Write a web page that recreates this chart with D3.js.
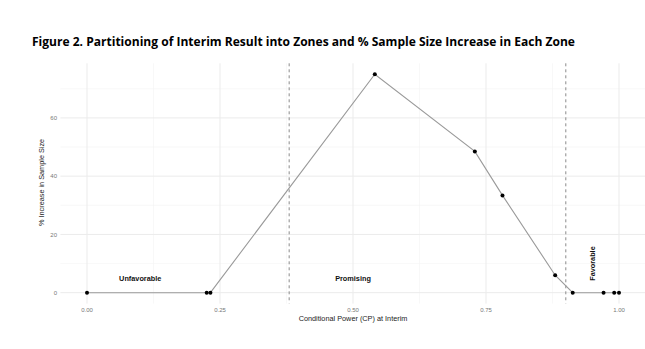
<!DOCTYPE html>
<meta charset="utf-8">
<title>Figure 2 - zones</title>
<style>
body { margin: 0; background: #fff; }
.grid line { stroke: #ebebeb; }
.grid .minor { stroke: #f3f3f3; stroke-width: 0.6px; }
.tick-label { font: 6px "Liberation Sans", Arial, sans-serif; fill: #777; }
.axis-title { font: 7.3px "Liberation Sans", Arial, sans-serif; fill: #222; }
.zone { font: bold 7.3px "Liberation Sans", Arial, sans-serif; fill: #111; }
.link { fill: none; stroke: #9a9a9a; stroke-width: 1.1px; }
</style>
<body>
<div id="chart"></div>
<script src="https://cdn.jsdelivr.net/npm/d3@7/dist/d3.min.js"></script>
<script>

// data
const cp = [0, 0.225, 0.232, 0.541, 0.729, 0.781, 0.880, 0.913, 0.971, 0.991, 1.0];
const increase = [0, 0, 0, 75, 48.5, 33.4, 6, 0, 0, 0, 0];
const cutoffs = [0.38, 0.9];
const xTicks = [0, 0.25, 0.5, 0.75, 1];
const xMinor = [0.125, 0.375, 0.625, 0.875];
const yTicks = [0, 20, 40, 60];
const yMinor = [10, 30, 50, 70];
const zones = ["Unfavorable", "Promising", "Favorable"];
const zoneX = [0.1, 0.5, 0.95];
const zoneY = [5, 5, 10];
const zoneAngle = [0, 0, -90];

const width = 645, height = 349;
const panel = { left: 60.4, right: 645.6, top: 63.3, bottom: 303.6 };

const svg = d3.select("#chart").append("svg")
    .attr("width", width)
    .attr("height", height);

// title
svg.append("text")
    .attr("x", 32)
    .attr("y", 46)
    .attr("textLength", 543)
    .attr("lengthAdjust", "spacingAndGlyphs")
    .style("font", "bold 12.5px 'Open Sans', sans-serif")
    .style("fill", "#000")
    .text("Figure 2. Partitioning of Interim Result into Zones and % Sample Size Increase in Each Zone");

// ggplot-like 5% expansion
const xExt = d3.extent(cp), yExt = d3.extent(increase);
const xPad = (xExt[1] - xExt[0]) * 0.05, yPad = (yExt[1] - yExt[0]) * 0.05;

const x = d3.scaleLinear()
    .domain([xExt[0] - xPad, xExt[1] + xPad])
    .range([panel.left, panel.right]);
const y = d3.scaleLinear()
    .domain([yExt[0] - yPad, yExt[1] + yPad])
    .range([panel.bottom, panel.top]);

// gridlines
const grid = svg.append("g").attr("class", "grid");
grid.selectAll(".minor-x").data(xMinor).enter().append("line")
    .attr("class", "minor")
    .attr("x1", d => x(d)).attr("x2", d => x(d))
    .attr("y1", panel.top).attr("y2", panel.bottom);
grid.selectAll(".minor-y").data(yMinor).enter().append("line")
    .attr("class", "minor")
    .attr("x1", panel.left).attr("x2", panel.right)
    .attr("y1", d => y(d)).attr("y2", d => y(d));
grid.selectAll(".major-x").data(xTicks).enter().append("line")
    .attr("x1", d => x(d)).attr("x2", d => x(d))
    .attr("y1", panel.top).attr("y2", panel.bottom);
grid.selectAll(".major-y").data(yTicks).enter().append("line")
    .attr("x1", panel.left).attr("x2", panel.right)
    .attr("y1", d => y(d)).attr("y2", d => y(d));

// tick labels
svg.selectAll(".xtick").data(xTicks).enter().append("text")
    .attr("class", "tick-label")
    .attr("x", d => x(d))
    .attr("y", 312)
    .attr("text-anchor", "middle")
    .text(d3.format(".2f"));
svg.selectAll(".ytick").data(yTicks).enter().append("text")
    .attr("class", "tick-label")
    .attr("x", 57)
    .attr("y", d => y(d))
    .attr("dy", "0.35em")
    .attr("text-anchor", "end")
    .text(d => d);

// axis titles
svg.append("text")
    .attr("class", "axis-title")
    .attr("x", (panel.left + panel.right) / 2)
    .attr("y", 321)
    .attr("text-anchor", "middle")
    .text("Conditional Power (CP) at Interim");
svg.append("text")
    .attr("class", "axis-title")
    .attr("transform", "translate(44," + ((panel.top + panel.bottom) / 2 - 1) + ") rotate(-90)")
    .attr("text-anchor", "middle")
    .text("% Increase in Sample Size");

// zone cutoffs
svg.selectAll(".cut").data(cutoffs).enter().append("line")
    .attr("x1", d => x(d)).attr("x2", d => x(d))
    .attr("y1", panel.top).attr("y2", panel.bottom)
    .attr("stroke", "#8a8a8a")
    .attr("stroke-width", 1)
    .attr("stroke-dasharray", "3,3");

// line and points
const pts = cp.map((d, i) => [d, increase[i]]);
svg.append("path")
    .datum(pts)
    .attr("class", "link")
    .attr("d", d3.line().x(d => x(d[0])).y(d => y(d[1])));
svg.selectAll(".pt").data(pts).enter().append("circle")
    .attr("cx", d => x(d[0]))
    .attr("cy", d => y(d[1]))
    .attr("r", 2)
    .attr("fill", "#000");

// zone labels
svg.selectAll(".zone").data(zones).enter().append("text")
    .attr("class", "zone")
    .attr("text-anchor", "middle")
    .attr("dy", "0.35em")
    .attr("transform", (d, i) => "translate(" + x(zoneX[i]) + "," + y(zoneY[i]) + ") rotate(" + zoneAngle[i] + ")")
    .text(d => d);

</script>
</body>
